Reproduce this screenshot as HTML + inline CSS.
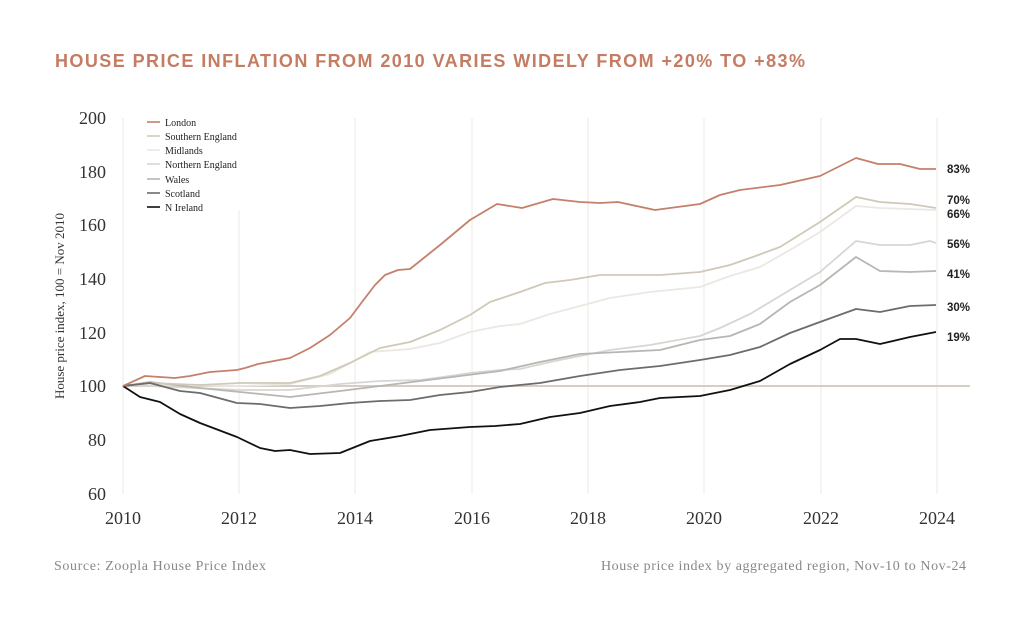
<!DOCTYPE html>
<html><head><meta charset="utf-8"><style>
body{margin:0;background:#fff;width:1024px;height:624px;overflow:hidden}
svg{display:block}
.s{font-family:"Liberation Serif",serif}
.a{font-family:"Liberation Sans",sans-serif}
</style></head><body>
<svg width="1024" height="624" viewBox="0 0 1024 624" xmlns="http://www.w3.org/2000/svg">
<text x="55" y="67" class="a" font-size="18" font-weight="bold" fill="#c47c62" textLength="750" lengthAdjust="spacing">HOUSE PRICE INFLATION FROM 2010 VARIES WIDELY FROM +20% TO +83%</text>
<g stroke="#ebe8e3" stroke-width="1">
<line x1="123" y1="118" x2="123" y2="494"/>
<line x1="239" y1="210" x2="239" y2="494"/>
<line x1="355" y1="118" x2="355" y2="494"/>
<line x1="472" y1="118" x2="472" y2="494"/>
<line x1="588" y1="118" x2="588" y2="494"/>
<line x1="704" y1="118" x2="704" y2="494"/>
<line x1="821" y1="118" x2="821" y2="494"/>
<line x1="937" y1="118" x2="937" y2="494"/>
</g>
<line x1="123" y1="386" x2="970" y2="386" stroke="#d6cec2" stroke-width="2"/>
<g class="s" font-size="18" fill="#333" text-anchor="end">
<text x="106" y="124">200</text><text x="106" y="178">180</text><text x="106" y="231">160</text><text x="106" y="285">140</text><text x="106" y="339">120</text><text x="106" y="392">100</text><text x="106" y="446">80</text><text x="106" y="500">60</text>
</g>
<g class="s" font-size="18" fill="#333" text-anchor="middle">
<text x="123" y="524">2010</text><text x="239" y="524">2012</text><text x="355" y="524">2014</text><text x="472" y="524">2016</text><text x="588" y="524">2018</text><text x="704" y="524">2020</text><text x="821" y="524">2022</text><text x="937" y="524">2024</text>
</g>
<text class="s" font-size="13" fill="#333" transform="translate(64,306) rotate(-90)" text-anchor="middle">House price index, 100 = Nov 2010</text>
<g fill="none" stroke-width="1.8" stroke-linejoin="round">
<polyline stroke="#ebe8e2" points="123,386 150,385 240,386 290,384 330,374 370,352 410,349 440,343 470,332 500,326 520,324 550,314 580,306 610,298 650,292 700,287 730,276 760,267 790,250 820,232 856,206 880,208 936,210"/>
<polyline stroke="#d8d6d2" points="123,386 150,386 240,390 290,390 340,384 380,381 420,380 450,376 470,373 500,370 520,369 550,362 580,356 610,350 650,345 700,336 720,328 750,314 790,290 820,272 856,241 880,245 910,245 930,241 936,243"/>
<polyline stroke="#b8b6b2" points="123,386 150,382 200,388 240,392 290,397 340,391 380,386 420,381 460,376 500,371 540,362 580,354 620,352 660,350 700,340 730,336 760,324 790,302 820,285 856,257 880,271 910,272 936,271"/>
<polyline stroke="#d0c9b8" points="123,386 150,383 200,385 240,383 290,383 320,376 350,363 380,348 410,342 440,330 470,315 490,302 520,292 545,283 570,280 600,275 640,275 660,275 700,272 730,265 750,258 780,247 820,222 856,197 880,202 910,204 936,208"/>
<polyline stroke="#6e6c6a" points="123,386 150,383 180,391 200,393 237,403 260,404 290,408 320,406 350,403 380,401 410,400 440,395 470,392 500,387 540,383 580,376 620,370 660,366 700,360 730,355 760,347 790,333 820,322 856,309 880,312 910,306 936,305"/>
<polyline stroke="#111" points="123,386 140,397 160,402 180,414 200,423 237,437 260,448 275,451 290,450 310,454 340,453 370,441 400,436 430,430 470,427 495,426 520,424 550,417 580,413 610,406 640,402 660,398 700,396 730,390 760,381 790,364 820,350 840,339 856,339 880,344 910,337 936,332"/>
<polyline stroke="#c4806a" points="123,386 145,376 175,378 190,376 210,372 237,370 245,368 258,364 290,358 310,348 330,335 350,318 362,302 375,285 385,275 398,270 410,269 440,245 470,220 497,204 522,208 553,199 580,202 600,203 618,202 655,210 700,204 720,195 740,190 780,185 820,176 856,158 878,164 900,164 920,169 936,169"/>
</g>
<g class="a" font-size="11.5" font-weight="bold" fill="#222">
<text x="947" y="173">83%</text><text x="947" y="204">70%</text><text x="947" y="218">66%</text><text x="947" y="248">56%</text><text x="947" y="278">41%</text><text x="947" y="311">30%</text><text x="947" y="341">19%</text>
</g>
<g stroke-width="1.6">
<line x1="147" y1="122" x2="160" y2="122" stroke="#c4806a"/>
<line x1="147" y1="136" x2="160" y2="136" stroke="#d0c9b8"/>
<line x1="147" y1="150" x2="160" y2="150" stroke="#ebe8e2"/>
<line x1="147" y1="164" x2="160" y2="164" stroke="#d8d6d2"/>
<line x1="147" y1="179" x2="160" y2="179" stroke="#b8b6b2"/>
<line x1="147" y1="193" x2="160" y2="193" stroke="#6e6c6a"/>
<line x1="147" y1="207" x2="160" y2="207" stroke="#111"/>
</g>
<g class="s" font-size="10" fill="#222">
<text x="165" y="126">London</text><text x="165" y="140">Southern England</text><text x="165" y="154">Midlands</text><text x="165" y="168">Northern England</text><text x="165" y="183">Wales</text><text x="165" y="197">Scotland</text><text x="165" y="211">N Ireland</text>
</g>
<text x="54" y="570" class="s" font-size="14" fill="#888" textLength="212" lengthAdjust="spacing">Source: Zoopla House Price Index</text>
<text x="601" y="570" class="s" font-size="14" fill="#888" textLength="365" lengthAdjust="spacing">House price index by aggregated region, Nov-10 to Nov-24</text>
</svg>
</body></html>
